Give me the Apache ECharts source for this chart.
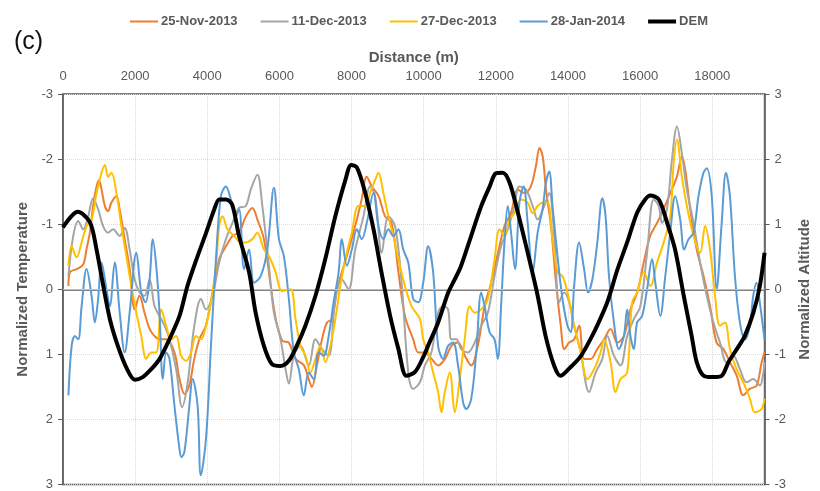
<!DOCTYPE html>
<html>
<head>
<meta charset="utf-8">
<script src="https://cdn.jsdelivr.net/npm/echarts@6/dist/echarts.min.js"></script>
<style>
  html, body { margin: 0; padding: 0; background: #fff; }
  #chart { width: 820px; height: 491px; }
</style>
</head>
<body>
<div id="chart"></div>
<script>
// Normalized temperature profiles along the transect: [distance (m), value]
const nov25 = [[150,-0.05],[190,-0.26],[380,-0.31],[560,-0.38],[650,-0.61],[745,-0.87],[835,-1.28],[930,-1.58],[1000,-1.68],[1070,-1.53],[1160,-1.28],[1250,-1.2],[1340,-1.33],[1480,-1.43],[1570,-1.23],[1710,-0.77],[1850,-0.31],[1990,0.31],[2120,0.1],[2260,0.36],[2400,0.61],[2540,0.72],[2680,0.77],[2860,0.77],[3090,0.97],[3230,1.38],[3370,1.61],[3500,1.48],[3640,1.07],[3780,0.77],[3960,0.56],[4150,0.05],[4330,-0.46],[4520,-0.66],[4700,-0.82],[4880,-0.87],[5070,-1.12],[5250,-1.25],[5390,-1.07],[5570,-0.77],[5760,-0.05],[5900,0.46],[6080,0.79],[6260,0.82],[6450,1.07],[6680,1.17],[6810,1.38],[6900,1.5],[7040,1.17],[7180,0.77],[7320,0.51],[7460,0.46],[7600,0],[7730,-0.26],[7920,-0.61],[8100,-0.97],[8280,-1.38],[8420,-1.73],[8560,-1.58],[8750,-1.43],[8930,-1.12],[9110,-1.02],[9300,-0.26],[9480,0.41],[9710,0.77],[9850,0.97],[10030,0.97],[10220,1.07],[10400,1.17],[10590,1.07],[10770,0.87],[10950,0.82],[11140,1.02],[11320,1.17],[11500,0.87],[11690,0.26],[11870,-0.1],[12060,-0.56],[12240,-0.97],[12420,-1.17],[12610,-1.53],[12790,-1.48],[12970,-1.58],[13110,-1.89],[13210,-2.17],[13300,-2.04],[13390,-1.53],[13530,-0.97],[13660,-0.15],[13800,0.56],[13900,0.92],[14030,0.82],[14170,0.77],[14310,0.56],[14450,1.07],[14630,1.07],[14810,0.92],[15000,0.77],[15180,0.61],[15370,0.82],[15550,0.72],[15730,0.31],[15920,0.05],[16100,-0.41],[16280,-0.82],[16470,-1.02],[16650,-1.23],[16840,-1.48],[17020,-1.73],[17160,-2.04],[17250,-1.84],[17390,-1.23],[17570,-0.61],[17760,-0.2],[17940,0.26],[18120,0.82],[18310,0.92],[18490,1.12],[18680,1.33],[18860,1.63],[19040,1.53],[19230,1.48],[19370,1.12],[19450,0.97]];

const dec11 = [[150,-0.2],[284,-0.82],[422,-1.05],[560,-0.92],[698,-1.12],[836,-1.4],[974,-1.23],[1112,-0.97],[1250,-0.87],[1388,-0.92],[1572,-0.82],[1710,-0.94],[1848,-0.61],[1986,-0.15],[2124,0.05],[2262,0.1],[2400,-0.15],[2538,0.26],[2676,0.41],[2814,0.56],[2952,0.77],[3137,1.23],[3302,1.81],[3457,1.43],[3641,0.56],[3826,0.15],[3964,0.31],[4146,0.1],[4331,-0.41],[4516,-0.77],[4698,-1.02],[4880,-1.25],[5068,-1.28],[5205,-1.53],[5388,-1.76],[5526,-1.28],[5710,-0.36],[5848,0.36],[6033,0.77],[6171,1.23],[6262,1.45],[6400,1.02],[6585,0.87],[6814,1.17],[6999,0.77],[7181,0.92],[7365,1.02],[7550,0.15],[7732,-0.15],[7917,0],[8102,-0.61],[8331,-1.12],[8516,-1.58],[8654,-1.43],[8836,-0.56],[9021,-1.12],[9206,-0.97],[9388,-0.1],[9572,1.28],[9710,1.53],[9895,1.43],[10033,1.17],[10215,0.97],[10400,0.36],[10538,0.26],[10676,0.31],[10767,0.77],[10905,0.77],[11043,0.92],[11227,0.97],[11412,0.82],[11595,0.56],[11779,0.36],[11964,-0.2],[12146,-0.66],[12331,-0.92],[12516,-1.28],[12654,-1.58],[12836,-1.53],[13021,-1.28],[13159,-1.07],[13343,-1.28],[13481,-1.48],[13619,-0.82],[13757,0.2],[13895,0.05],[14033,0.2],[14171,0.56],[14353,0.97],[14585,1.58],[14767,1.28],[14952,1.07],[15090,0.72],[15274,1.02],[15457,1.17],[15641,0.72],[15826,0.46],[16008,0.26],[16193,-0.56],[16378,-1.38],[16516,-1.28],[16607,-1.02],[16745,-1.23],[16883,-1.99],[17021,-2.5],[17158,-2.09],[17296,-1.53],[17481,-1.02],[17663,-0.41],[17848,0.1],[18033,0.51],[18215,0.82],[18400,1.12],[18585,1.02],[18767,1.23],[18952,1.43],[19137,1.38],[19319,1.48],[19448,1.12]];

const dec27 = [[150,-0.36],[240,-0.66],[378,-0.49],[516,-0.72],[654,-0.97],[792,-1.07],[930,-1.48],[1068,-1.79],[1159,-1.91],[1250,-1.73],[1343,-1.79],[1481,-1.48],[1619,-0.97],[1757,-0.51],[1895,-0.05],[2033,0.36],[2171,0.72],[2309,1.07],[2447,0.97],[2585,0.97],[2723,0.31],[2861,0.56],[2999,0.77],[3137,0.72],[3274,1.02],[3412,1.1],[3550,0.97],[3688,0.72],[3826,0.77],[3964,0.56],[4102,0.2],[4240,-0.36],[4331,-0.97],[4422,-1.12],[4560,-0.92],[4745,-0.82],[4930,-0.72],[5068,-0.72],[5250,-0.77],[5388,-0.87],[5572,-0.61],[5710,-0.51],[5895,-0.26],[6077,0.03],[6309,0],[6447,0.46],[6585,0.87],[6723,1.02],[6861,1.28],[6999,1.07],[7137,0.87],[7274,1.12],[7412,0.87],[7550,0.46],[7688,-0.05],[7826,-0.46],[8008,-0.87],[8193,-1.28],[8378,-1.28],[8516,-1.48],[8654,-1.68],[8745,-1.79],[8883,-1.48],[9021,-1.12],[9159,-0.82],[9297,-0.46],[9481,-0.05],[9663,0.26],[9895,0.46],[9986,0.77],[10124,0.97],[10262,1.28],[10400,1.58],[10491,1.89],[10585,1.58],[10723,1.28],[10860,1.89],[10999,1.38],[11137,0.77],[11275,0.26],[11412,0.36],[11595,0.31],[11779,0.15],[11964,-0.46],[12102,-0.92],[12240,-0.82],[12378,-1.07],[12516,-1.17],[12698,-1.38],[12883,-1.33],[13021,-1.17],[13159,-1.28],[13296,-1.33],[13434,-1.33],[13572,-0.77],[13710,-0.26],[13848,-0.2],[13986,0.05],[14171,0.56],[14353,0.97],[14538,1.38],[14723,1.23],[14905,0.97],[14998,0.77],[15181,1.12],[15319,1.58],[15457,1.38],[15641,1.28],[15779,0.2],[15917,0.05],[16102,-0.26],[16284,-0.05],[16469,-0.41],[16654,-0.72],[16836,-1.12],[16930,-1.94],[17021,-2.3],[17158,-1.73],[17296,-1.28],[17481,-0.82],[17663,-0.56],[17802,-0.97],[17939,-0.61],[18077,0.1],[18215,0.56],[18353,0.51],[18491,0.92],[18676,1.23],[18861,1.43],[19043,1.68],[19181,1.89],[19365,1.84],[19448,1.68]];

const jan28 = [[150,1.63],[240,0.87],[331,0.72],[422,0.77],[516,0.26],[654,-0.31],[792,0.1],[883,0.51],[974,0.15],[1068,-0.41],[1206,0],[1297,0.26],[1434,-0.41],[1572,0.36],[1710,0.97],[1848,0.36],[2033,-0.56],[2171,0.05],[2290,0.2],[2400,-0.15],[2491,-0.77],[2585,-0.36],[2676,0.36],[2767,1.38],[2861,0.97],[2952,1.07],[3090,1.79],[3228,2.45],[3283,2.58],[3366,2.5],[3503,1.79],[3594,1.38],[3732,1.79],[3821,2.86],[3964,2.3],[4102,0.87],[4240,-0.46],[4378,-1.43],[4516,-1.58],[4654,-1.38],[4792,-1.12],[4883,-1.23],[5021,-0.31],[5159,-0.61],[5297,-0.1],[5481,-0.2],[5664,-0.61],[5848,-1.56],[5986,-0.77],[6124,-0.51],[6262,0.15],[6400,0.97],[6538,1.23],[6676,1.63],[6814,1.28],[6952,1.38],[7090,0.97],[7227,1.02],[7365,0.72],[7503,0.2],[7641,-0.26],[7732,-0.77],[7870,-0.36],[8008,-0.61],[8146,-0.92],[8284,-0.77],[8422,-1.02],[8607,-1.48],[8745,-0.97],[8883,-0.77],[9021,-0.92],[9159,-0.82],[9297,-0.92],[9434,-0.61],[9572,-0.41],[9710,0.15],[9848,0.2],[9986,-0.1],[10124,-0.66],[10262,-0.26],[10400,0.87],[10538,1.07],[10676,0.87],[10814,0.82],[10952,1.17],[11090,1.73],[11181,1.84],[11319,1.68],[11457,0.97],[11595,0.05],[11688,0.26],[11826,0.66],[11964,0.77],[12055,1.07],[12146,0.26],[12240,-0.72],[12331,-1.28],[12422,-0.87],[12532,-0.31],[12654,-1.33],[12772,-1.58],[12883,-1.02],[13021,-0.26],[13159,-0.87],[13296,-1.23],[13388,-1.63],[13481,-1.81],[13572,-1.28],[13710,-0.51],[13848,0.15],[13986,0.56],[14077,0.66],[14171,-0.05],[14309,-0.72],[14447,-0.31],[14557,0.05],[14676,-0.15],[14814,-0.72],[14952,-1.4],[15043,-1.12],[15137,-0.2],[15274,0.51],[15412,0.92],[15550,0.72],[15641,0.31],[15733,0.72],[15826,0.92],[15917,0.51],[16055,0.41],[16193,0],[16331,-0.46],[16422,-0.1],[16560,0.41],[16698,-0.2],[16836,-0.87],[16974,-1.43],[17112,-1.07],[17222,-0.61],[17343,-0.77],[17481,-0.87],[17619,-1.43],[17757,-1.79],[17848,-1.86],[17986,-1.43],[18124,0],[18262,-1.02],[18381,-1.79],[18491,-1.43],[18629,-0.2],[18767,0.51],[18905,0.77],[19043,0.56],[19137,0.1],[19227,-0.1],[19319,0.2],[19448,0.77]];

// Normalized altitude of the terrain profile
const dem = [[0,0.95],[410,1.19],[745,1.03],[930,0.61],[1100,0.1],[1300,-0.46],[1520,-0.87],[1770,-1.22],[1990,-1.39],[2210,-1.35],[2460,-1.22],[2680,-1.07],[2950,-0.77],[3230,-0.41],[3450,0.05],[3700,0.46],[3970,0.87],[4190,1.22],[4330,1.38],[4520,1.38],[4690,1.3],[4880,0.82],[5160,0.26],[5340,-0.36],[5570,-0.87],[5790,-1.15],[6030,-1.18],[6260,-1.1],[6480,-0.87],[6720,-0.56],[7000,-0.1],[7270,0.46],[7550,1.12],[7830,1.68],[7990,1.91],[8150,1.87],[8380,1.48],[8610,0.92],[8830,0.26],[9070,-0.41],[9300,-0.92],[9520,-1.33],[9760,-1.27],[9990,-1.04],[10120,-0.87],[10400,-0.51],[10680,-0.05],[10860,0.15],[11030,0.35],[11310,0.81],[11590,1.27],[11830,1.58],[12000,1.78],[12190,1.79],[12380,1.64],[12610,1.18],[12880,0.57],[13160,-0.1],[13380,-0.72],[13620,-1.18],[13790,-1.33],[14030,-1.22],[14340,-1.04],[14620,-0.77],[14810,-0.56],[15090,-0.2],[15370,0.3],[15640,0.72],[15920,1.18],[16140,1.38],[16280,1.44],[16520,1.38],[16750,1.02],[16970,0.61],[17210,-0.1],[17430,-0.72],[17570,-1.12],[17760,-1.33],[17990,-1.35],[18260,-1.33],[18450,-1.12],[18680,-0.92],[18900,-0.72],[19140,-0.36],[19320,0.05],[19450,0.56]];

const seriesNames = ['25-Nov-2013', '11-Dec-2013', '27-Dec-2013', '28-Jan-2014', 'DEM'];
const seriesColors = ['#ED7D31', '#A5A5A5', '#FFC000', '#5B9BD5', '#000000'];
const distanceMax = 19450;

const font = 'Liberation Sans, Arial, sans-serif';
const textGray = '#595959';

const chart = echarts.init(document.getElementById('chart'), null, { renderer: 'canvas' });

function tempLine(name, data, color) {
  return {
    name, type: 'line', data, yAxisIndex: 0,
    showSymbol: false, smooth: 0.35,
    lineStyle: { color, width: 2 }, itemStyle: { color },
    z: 2
  };
}

function lineIcon(h) {
  return 'path://M0,0 L28,0 L28,' + h + ' L0,' + h + ' Z';
}

chart.setOption({
  animation: false,
  backgroundColor: '#fff',
  textStyle: { fontFamily: font },
  title: {
    text: '(c)', left: 9, top: 25,
    textStyle: { fontSize: 25, fontWeight: 'normal', color: '#111', fontFamily: font }
  },
  legend: {
    top: 10, left: 125,
    itemWidth: 28, itemHeight: 10, itemGap: 23,
    textStyle: { fontSize: 13, fontWeight: 'bold', color: textGray, fontFamily: font, padding: [0, 0, 0, -2] },
    data: seriesNames.map((n) => ({ name: n, icon: lineIcon(n === 'DEM' ? 4 : 2) }))
  },
  grid: {
    left: 63, right: 52, top: 94, bottom: 5,
    show: true, borderColor: '#595959', borderWidth: 1.5, backgroundColor: 'transparent'
  },
  xAxis: {
    type: 'value', position: 'top', min: 0, max: distanceMax, interval: 2000,
    name: 'Distance (m)', nameLocation: 'middle', nameGap: 29,
    nameTextStyle: { fontSize: 15, fontWeight: 'bold', color: textGray, fontFamily: font },
    axisLine: { show: true, lineStyle: { color: '#595959', width: 1.5 } },
    axisTick: { show: false },
    axisLabel: {
      showMaxLabel: false, margin: 11, fontSize: 13, color: textGray, fontFamily: font,
      formatter: (v) => String(v)
    },
    splitLine: { show: true, lineStyle: { color: '#d9d9d9', type: 'dotted', width: 1 } }
  },
  yAxis: [
    {
      type: 'value', inverse: true, min: -3, max: 3, interval: 1, position: 'left',
      name: 'Normalized Temperature', nameLocation: 'middle', nameGap: 29,
      nameTextStyle: { fontSize: 15, fontWeight: 'bold', color: textGray, fontFamily: font },
      axisLine: { show: true, lineStyle: { color: '#595959', width: 1.5 } },
      axisTick: { show: true, length: 5, lineStyle: { color: '#595959' } },
      axisLabel: { margin: 10, fontSize: 13, color: textGray, fontFamily: font },
      splitLine: {
        show: true,
        lineStyle: { color: '#d9d9d9', type: 'dotted', width: 1 }
      }
    },
    {
      type: 'value', min: -3, max: 3, interval: 1, position: 'right',
      name: 'Normalized Altitude', nameLocation: 'middle', nameGap: 32,
      nameTextStyle: { fontSize: 15, fontWeight: 'bold', color: textGray, fontFamily: font },
      axisLine: { show: true, lineStyle: { color: '#595959', width: 1.5 } },
      axisTick: { show: true, length: 5, lineStyle: { color: '#595959' } },
      axisLabel: { margin: 10, fontSize: 13, color: textGray, fontFamily: font },
      splitLine: { show: false }
    }
  ],
  series: [
    tempLine(seriesNames[0], nov25, seriesColors[0]),
    tempLine(seriesNames[1], dec11, seriesColors[1]),
    tempLine(seriesNames[2], dec27, seriesColors[2]),
    tempLine(seriesNames[3], jan28, seriesColors[3]),
    {
      name: seriesNames[4], type: 'line', data: dem, yAxisIndex: 1,
      showSymbol: false, smooth: 0.3,
      lineStyle: { color: seriesColors[4], width: 4 }, itemStyle: { color: seriesColors[4] },
      z: 5,
      markLine: {
        silent: true, symbol: 'none', label: { show: false },
        lineStyle: { color: '#bfbfbf', type: 'solid', width: 1 },
        data: [{ yAxis: 0 }]
      }
    }
  ]
});
</script>
</body>
</html>
